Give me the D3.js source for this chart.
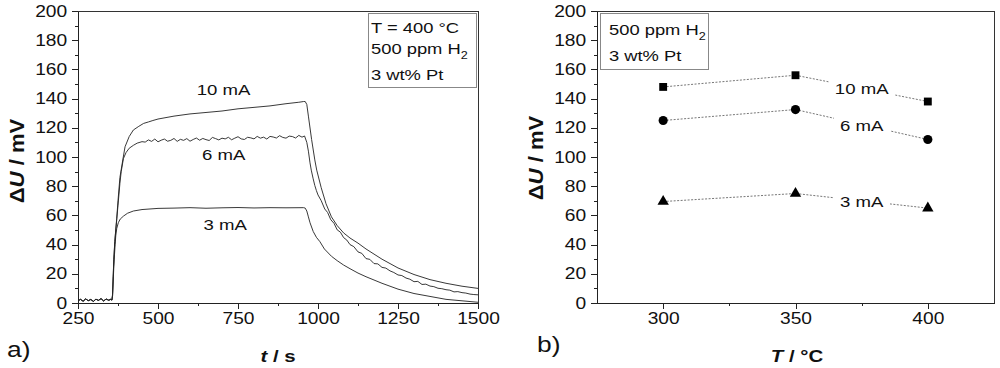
<!DOCTYPE html>
<html>
<head>
<meta charset="utf-8">
<script src="https://cdn.jsdelivr.net/npm/d3@7"></script>
<style>
    body { margin: 0; background: #fff; }
    svg { font-family: "Liberation Sans", Arial, sans-serif; }
    .axis path, .axis line { stroke: #222; shape-rendering: crispEdges; }
    .axis text { font-size: 16px; fill: #111; }
    .frame { fill: none; stroke: #333; shape-rendering: crispEdges; }
    .axis-title { font-size: 17px; font-weight: bold; fill: #111; }
    .panel-label { font-size: 22px; fill: #111; }
    .note-box { fill: #fff; stroke: #888; shape-rendering: crispEdges; }
    .note { font-size: 15.3px; fill: #111; }
    .curve { fill: none; stroke: #222; stroke-width: 0.9; }
    .curve-label { font-size: 15.5px; fill: #111; text-anchor: middle; }
    .dotline { stroke: #777; stroke-width: 1; stroke-dasharray: 2,1.5; fill: none; }
</style>
</head>
<body>
<svg id="chart" width="1000" height="368"></svg>
<script>
// ---------- data: panel a) transient response, [t in s, dU in mV] ----------
const baseline = [[250,1.5],[258,2.5],[266,1.2],[274,2.8],[282,1.6],[290,2.4],[298,1.1],[306,2.6],
    [314,1.8],[322,3.0],[330,1.4],[338,2.7],[346,1.9],[352,2.5],[356,2]];

const curve10mA = [[358,5],[360,18],[362,30],[365,42],[368,50],[371,58],[375,70],[381,86],[390,98],
    [397,107],[410,114],[423,118.5],[440,121],[455,123],[470,124],[484,125],[500,126],[550,128],
    [600,129.5],[650,130.5],[700,131.5],[750,133],[800,134],[850,135],[900,136.5],[940,137.5],
    [955,138],[960,138],[965,136],[970,128],[980,112],[990,98],[996,91],[1010,79],[1025,68],
    [1042,59],[1060,53],[1080,48],[1100,44.5],[1125,41],[1150,37],[1200,30],[1250,24],[1300,19.5],
    [1350,16],[1400,13.5],[1450,11.5],[1500,10]];

const curve6mA = [[358,6],[360,18],[362,30],[365,42],[368,50],[371,57],[375,67],[381,82],[385,90],
    [392,99],[400,103],[410,106],[423,108],[435,109.5],[450,110.5],[460,110.2],[470,111.7],[480,110.7],
    [490,112.3],[500,110.4],[510,111.5],[520,112.3],[530,110.8],[540,111.4],[550,112.7],[560,110.7],
    [570,112.1],[580,111.4],[590,112.6],[600,110.8],[610,112.0],[620,113.0],[630,111.5],[640,112.7],
    [650,111.9],[660,111.3],[670,113.4],[680,112.6],[690,111.7],[700,112.9],[710,112.4],[720,113.5],
    [730,111.8],[740,112.9],[750,113.9],[760,112.4],[770,112.0],[780,113.5],[790,113.1],[800,112.4],
    [810,114.1],[820,112.9],[830,113.6],[840,112.3],[850,114.1],[860,113.7],[870,113.0],[880,114.6],
    [890,113.4],[900,112.9],[910,114.3],[920,114.0],[930,113.0],[940,114.8],[950,113.6],[958,114.4],
    [965,110],[970,104],[975,96],[979,91],[985,85],[990,80.5],[995,77],[1000,74],[1010,70.1],
    [1021,64.4],[1030,62.0],[1040,57.0],[1050,54.6],[1060,50.1],[1070,48.5],[1080,44.8],[1090,43.1],
    [1100,40.0],[1112,38.6],[1125,35.0],[1137,34.0],[1150,30.4],[1162,29.9],[1175,27.0],[1187,26.8],
    [1200,24.4],[1212,23.9],[1225,22.0],[1237,20.9],[1250,19.2],[1262,18.8],[1275,17.1],[1287,16.3],
    [1300,14.6],[1312,14.8],[1325,12.7],[1337,12.9],[1350,11.6],[1362,11.2],[1375,10.1],[1387,9.8],
    [1400,9.1],[1412,8.8],[1425,7.6],[1437,7.8],[1450,7.1],[1462,6.8],[1475,6.1],[1487,5.8],[1500,5.6]];

const curve3mA = [[358,5],[360,15],[362,25],[364,33],[366,40],[368,46],[371,51],[376,55],[382,57.5],
    [392,59.5],[405,61.5],[423,63],[450,64],[500,64.8],[550,65],[600,65.3],[650,64.9],[700,65.2],
    [750,65.4],[800,65.1],[850,65.3],[900,65.2],[955,65.3],[960,65],[965,63],[970,59],[975,55],
    [985,49],[995,45],[1006,42],[1020,37],[1042,32],[1060,29],[1080,26],[1100,23.5],[1125,20.5],
    [1150,18],[1200,13.5],[1250,9.5],[1300,6.5],[1350,4.5],[1400,2.5],[1450,1.5],[1500,0.5]];

const labelsA = [
    { text: "10 mA", t: 705, u: 142.5 },
    { text: "6 mA", t: 705, u: 98 },
    { text: "3 mA", t: 710, u: 50 }
];

// ---------- data: panel b) temperature dependence ----------
const temperatures = [300, 350, 400];
const u10mA = [148, 156, 138];
const u6mA = [125, 132.5, 112];
const u3mA = [69.5, 75, 65];

const xTicksA = [250, 500, 750, 1000, 1250, 1500];
const xTicksB = [300, 350, 400];
const yTicks = [0, 20, 40, 60, 80, 100, 120, 140, 160, 180, 200];

const svg = d3.select("#chart");

// the source figure's lettering is a bit wider than plain Arial
const STRETCH = 1.2;

// shared layout
const plotTop = 11, plotBottom = 303;
const yScaleA = d3.scaleLinear().domain([0, 200]).range([plotBottom, plotTop]);
const yScaleB = d3.scaleLinear().domain([0, 200]).range([plotBottom, plotTop]);
const xScaleA = d3.scaleLinear().domain([250, 1500]).range([78, 478]);
const xScaleB = d3.scaleLinear().domain([275, 425]).range([597, 994]);

function wideText(parent, x, y, cls) {
    return parent.append("text")
        .attr("class", cls)
        .attr("transform", `translate(${x},${y}) scale(${STRETCH},1)`);
}

function drawAxes(xScale, yScale, xMajor, xMinor) {
    // frame top + right
    svg.append("path")
        .attr("class", "frame")
        .attr("d", `M${xScale.range()[0]},${plotTop + 0.5}H${xScale.range()[1] + 0.5}V${plotBottom}`);

    // minor ticks
    svg.append("g").attr("class", "axis")
        .attr("transform", `translate(0,${plotBottom})`)
        .call(d3.axisBottom(xScale).tickValues(xMinor).tickSize(3).tickFormat("").tickSizeOuter(0));
    svg.append("g").attr("class", "axis")
        .attr("transform", `translate(${xScale.range()[0]},0)`)
        .call(d3.axisLeft(yScale).tickValues(d3.range(10, 200, 20)).tickSize(3).tickFormat("").tickSizeOuter(0));

    // major ticks
    svg.append("g").attr("class", "axis")
        .attr("transform", `translate(0,${plotBottom})`)
        .call(d3.axisBottom(xScale).tickValues(xMajor).tickSize(6).tickPadding(4)
            .tickFormat(d3.format("d")).tickSizeOuter(0))
        .selectAll("text").attr("transform", `scale(${STRETCH},1)`);
    svg.append("g").attr("class", "axis")
        .attr("transform", `translate(${xScale.range()[0]},0)`)
        .call(d3.axisLeft(yScale).tickValues(yTicks).tickSize(6).tickPadding(3).tickSizeOuter(0))
        .selectAll("text").attr("transform", `scale(${STRETCH},1)`);
}

function yTitle(x, y) {
    const t = svg.append("text")
        .attr("class", "axis-title")
        .attr("text-anchor", "middle")
        .attr("transform", `translate(${x},${y}) rotate(-90) scale(1.3,${STRETCH})`);
    t.append("tspan").text("\u0394");
    t.append("tspan").attr("font-style", "italic").text("U");
    t.append("tspan").text(" / mV");
}

function noteBox(x, y, w, h, lines) {
    svg.append("rect").attr("class", "note-box")
        .attr("x", x + 0.5).attr("y", y + 0.5).attr("width", w).attr("height", h);
    lines.forEach(l => {
        const t = wideText(svg, x + l.dx, y + l.dy, "note");
        t.append("tspan").text(l.text);
        if (l.sub) {
            t.append("tspan").attr("font-size", "10.5px").attr("dy", 5).text(l.sub);
        }
    });
}

// ---------- panel a ----------
drawAxes(xScaleA, yScaleA, xTicksA, d3.range(375, 1500, 250));

const line = d3.line()
    .x(d => xScaleA(d[0]))
    .y(d => yScaleA(d[1]));

[curve10mA, curve6mA, curve3mA].forEach(c => {
    svg.append("path")
        .attr("class", "curve")
        .attr("d", line(baseline.concat(c)));
});

labelsA.forEach(l => {
    wideText(svg, xScaleA(l.t), yScaleA(l.u), "curve-label").text(l.text);
});

noteBox(368, 13, 108, 74, [
    { text: "T = 400 \u00b0C", dx: 3, dy: 20 },
    { text: "500 ppm H", sub: "2", dx: 3, dy: 41 },
    { text: "3 wt% Pt", dx: 3, dy: 67 }
]);

yTitle(24, 161);
const tx = wideText(svg, 278, 362, "axis-title").attr("text-anchor", "middle");
tx.append("tspan").attr("font-style", "italic").text("t");
tx.append("tspan").text(" / s");

wideText(svg, 7, 357, "panel-label").text("a)");

// ---------- panel b ----------
drawAxes(xScaleB, yScaleB, xTicksB, [325, 375]);

const seriesB = [
    { name: "10 mA", values: u10mA, symbol: d3.symbolSquare, size: 62 },
    { name: "6 mA", values: u6mA, symbol: d3.symbolCircle, size: 66 },
    { name: "3 mA", values: u3mA, symbol: d3.symbolTriangle, size: 56 }
];

seriesB.forEach(s => {
    const pts = temperatures.map((T, i) => [xScaleB(T), yScaleB(s.values[i])]);
    svg.append("path").attr("class", "dotline").attr("d", d3.line()(pts));

    // label sits on the second segment, with a white gap behind it
    const lx = xScaleB((temperatures[1] + temperatures[2]) / 2);
    const ly = yScaleB((s.values[1] + s.values[2]) / 2);
    const g = svg.append("g").attr("transform", `translate(${lx},${ly + 6}) scale(${STRETCH},1)`);
    const lbl = g.append("text").attr("class", "curve-label").text(s.name);
    const bb = lbl.node().getBBox();
    g.insert("rect", "text")
        .attr("x", bb.x - 5).attr("y", bb.y).attr("width", bb.width + 10).attr("height", bb.height)
        .attr("fill", "#fff");

    svg.selectAll(null).data(pts).enter().append("path")
        .attr("transform", d => `translate(${d[0]},${d[1]})`)
        .attr("d", d3.symbol().type(s.symbol).size(s.size))
        .attr("fill", "#000");
});

noteBox(600, 13, 108, 56, [
    { text: "500 ppm H", sub: "2", dx: 9, dy: 22 },
    { text: "3 wt% Pt", dx: 9, dy: 48 }
]);

yTitle(543, 158);
const tT = wideText(svg, 797, 362, "axis-title").attr("text-anchor", "middle");
tT.append("tspan").attr("font-style", "italic").text("T");
tT.append("tspan").text(" / \u00b0C");

wideText(svg, 537, 352, "panel-label").text("b)");
</script>
</body>
</html>
